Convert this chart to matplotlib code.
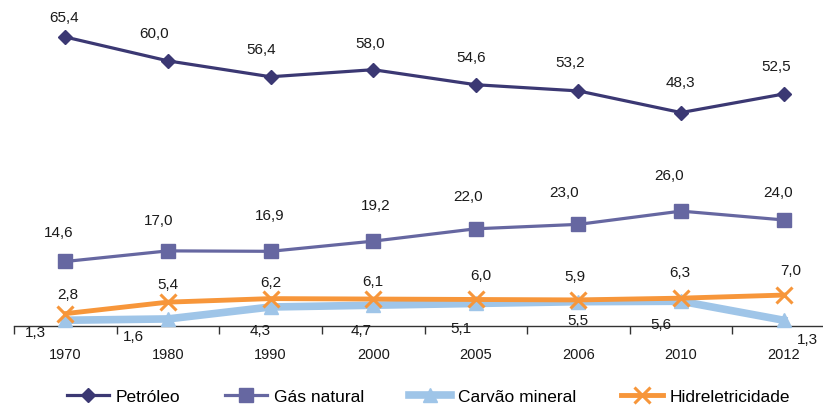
import numpy as np
import matplotlib
matplotlib.use('Agg')
import matplotlib.pyplot as plt
from matplotlib.ticker import FixedLocator


plt.rcParams['font.family'] = ['Liberation Sans', 'DejaVu Sans']

YEARS = ['1970', '1980', '1990', '2000', '2005', '2006', '2010', '2012']
PETROLEO = [65.4, 60.0, 56.4, 58.0, 54.6, 53.2, 48.3, 52.5]
GAS_NATURAL = [14.6, 17.0, 16.9, 19.2, 22.0, 23.0, 26.0, 24.0]
CARVAO = [1.3, 1.6, 4.3, 4.7, 5.1, 5.5, 5.6, 1.3]
HIDRO = [2.8, 5.4, 6.2, 6.1, 6.0, 5.9, 6.3, 7.0]

# label offsets in pixels (dx, dy), one per point
OFF_PETROLEO = [(-1, 20), (-14, 28), (-9, 28), (-3, 27), (-5, 28), (-8, 29), (-1, 31), (-8, 28)]
OFF_GAS = [(-7, 29), (-9, 31), (-1, 36), (2, 36), (-8, 33), (-14, 32), (-12, 36), (-6, 28)]
OFF_CARVAO = [(-30, -12), (-34, -17), (-10, -23), (-12, -25), (-15, -25), (-1, -18), (-20, -23), (24, -19)]
OFF_HIDRO = [(3, 20), (0, 18), (0, 17), (0, 18), (5, 24), (-4, 24), (-1, 26), (7, 25)]


def fmt(v):
    return '{:.1f}'.format(v).replace('.', ',')


def draw_series(ax, values, offsets, label, color, lw, marker, ms, mew=1.0):
    x = np.arange(len(values))
    ax.plot(x, values, color=color, linewidth=lw, marker=marker, markersize=ms,
            markeredgewidth=mew, markerfacecolor=color, markeredgecolor=color,
            label=label, clip_on=False, zorder=3)
    for xi, v, (dx, dy) in zip(x, values, offsets):
        ax.annotate(fmt(v), (xi, v), xytext=(dx, dy), textcoords='offset pixels',
                    ha='center', va='center', fontsize=11, color='#1a1a1a',
                    annotation_clip=False)


def main():
    fig = plt.figure(figsize=(8.23, 4.06), dpi=100)
    ax = fig.add_axes([14 / 823, 79 / 406, 821 / 823, 327 / 406])

    draw_series(ax, PETROLEO, OFF_PETROLEO, 'Petróleo', '#3b3873', 2.3, 'D', 7.5)
    draw_series(ax, GAS_NATURAL, OFF_GAS, 'Gás natural', '#6667a1', 2.3, 's', 9.5)
    draw_series(ax, CARVAO, OFF_CARVAO, 'Carvão mineral', '#9fc5e8', 5.5, '^', 10)
    draw_series(ax, HIDRO, OFF_HIDRO, 'Hidreletricidade', '#f7963a', 3.5, 'x', 11, mew=2.2)

    ax.set_xlim(-0.5, len(YEARS) - 0.5)
    ax.set_ylim(0, 74)

    for side in ['top', 'right', 'left']:
        ax.spines[side].set_visible(False)
    ax.spines['bottom'].set_color('#333333')
    ax.spines['bottom'].set_linewidth(1.0)
    ax.set_yticks([])

    # ticks at category boundaries, labels at category centers
    ax.xaxis.set_major_locator(FixedLocator(np.arange(-0.5, len(YEARS), 1.0)))
    ax.tick_params(axis='x', which='major', length=6, width=1.0, color='#333333',
                   labelbottom=False)
    ax.set_xticks(np.arange(len(YEARS)), minor=True)
    ax.set_xticklabels(YEARS, minor=True)
    ax.tick_params(axis='x', which='minor', length=0, pad=15, labelsize=10.5,
                   labelcolor='#1a1a1a')

    fig.legend(loc='center', bbox_to_anchor=(0.521, 0.022), ncol=4, frameon=False,
               fontsize=12.5, handlelength=2.4, handletextpad=0.4,
               columnspacing=2.6, borderaxespad=0)

    fig.savefig('out.png', dpi=100)


if __name__ == '__main__':
    main()
